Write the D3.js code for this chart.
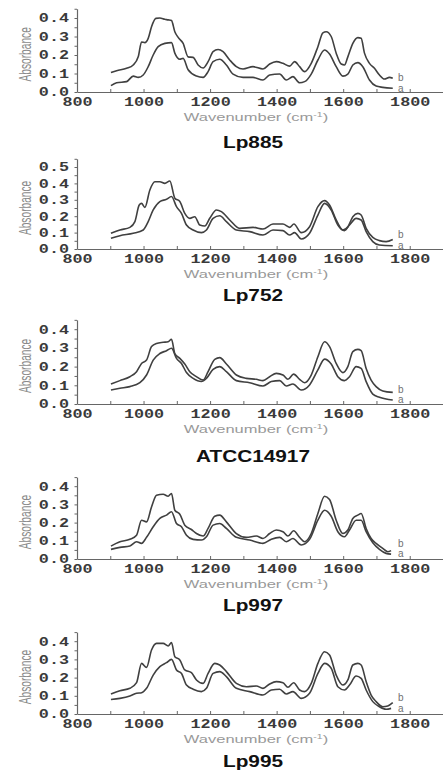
<!DOCTYPE html>
<html><head><meta charset="utf-8">
<script src="https://cdn.jsdelivr.net/npm/d3@7"></script>
<style>body{margin:0;background:#fff}svg{display:block}</style>
</head><body><svg id="c" width="443" height="779"></svg>
<script>
// ---------------- DATA ----------------
const panelNames = ["Lp885", "Lp752", "ATCC14917", "Lp997", "Lp995"];
const seriesNames = ["a", "b"];
const xTickLabels = [800, 1000, 1200, 1400, 1600, 1800];
const yTickLabelsA = [0.0, 0.1, 0.2, 0.3, 0.4];
const yTickLabelsB = [0.0, 0.1, 0.2, 0.3, 0.4, 0.5];

const lp885B = [[902,0.105],[919,0.115],[949,0.128],[969,0.146],[984,0.19],[994,0.27],[1004,0.267],[1014,0.29],[1024,0.353],[1037,0.398],[1049,0.40],[1064,0.393],[1074,0.39],[1084,0.386],[1094,0.326],[1104,0.295],[1119,0.263],[1134,0.19],[1149,0.187],[1164,0.146],[1179,0.13],[1194,0.164],[1209,0.218],[1224,0.23],[1239,0.218],[1259,0.173],[1279,0.137],[1299,0.124],[1329,0.137],[1359,0.124],[1379,0.151],[1399,0.164],[1419,0.155],[1439,0.14],[1454,0.164],[1469,0.137],[1484,0.11],[1504,0.155],[1524,0.245],[1539,0.32],[1549,0.326],[1564,0.30],[1579,0.21],[1594,0.151],[1604,0.146],[1614,0.19],[1629,0.263],[1644,0.294],[1654,0.29],[1664,0.21],[1679,0.155],[1694,0.128],[1709,0.092],[1724,0.07],[1739,0.079],[1749,0.074]];
const lp885A = [[902,0.034],[919,0.05],[949,0.056],[969,0.086],[984,0.079],[999,0.092],[1014,0.137],[1029,0.20],[1044,0.245],[1064,0.263],[1084,0.267],[1094,0.21],[1109,0.177],[1119,0.182],[1134,0.12],[1159,0.086],[1179,0.079],[1194,0.11],[1209,0.164],[1229,0.177],[1249,0.146],[1269,0.097],[1299,0.079],[1329,0.079],[1359,0.065],[1379,0.092],[1409,0.097],[1429,0.065],[1449,0.083],[1469,0.05],[1484,0.056],[1504,0.097],[1524,0.173],[1544,0.227],[1559,0.205],[1579,0.137],[1599,0.086],[1614,0.097],[1629,0.146],[1644,0.159],[1659,0.137],[1679,0.065],[1699,0.032],[1719,0.025],[1749,0.02]];

const lp752B = [[902,0.096],[929,0.116],[959,0.132],[974,0.167],[987,0.268],[994,0.278],[1004,0.254],[1019,0.36],[1034,0.41],[1049,0.41],[1064,0.40],[1079,0.415],[1094,0.31],[1109,0.29],[1124,0.217],[1139,0.187],[1154,0.197],[1169,0.146],[1184,0.14],[1199,0.187],[1219,0.238],[1234,0.228],[1259,0.177],[1289,0.126],[1329,0.132],[1359,0.122],[1389,0.152],[1419,0.152],[1439,0.132],[1452,0.152],[1474,0.10],[1499,0.136],[1524,0.258],[1544,0.295],[1559,0.268],[1579,0.177],[1599,0.116],[1614,0.136],[1629,0.197],[1644,0.217],[1654,0.207],[1669,0.126],[1689,0.071],[1709,0.051],[1729,0.045],[1749,0.058]];
const lp752A = [[902,0.065],[929,0.081],[969,0.096],[999,0.116],[1014,0.167],[1029,0.238],[1049,0.289],[1069,0.303],[1084,0.32],[1099,0.258],[1114,0.217],[1129,0.146],[1149,0.116],[1174,0.10],[1189,0.116],[1209,0.187],[1229,0.203],[1249,0.167],[1279,0.116],[1319,0.106],[1359,0.085],[1389,0.116],[1419,0.112],[1439,0.085],[1454,0.10],[1474,0.061],[1499,0.096],[1524,0.207],[1544,0.278],[1564,0.238],[1584,0.146],[1604,0.112],[1619,0.146],[1639,0.187],[1654,0.177],[1669,0.106],[1689,0.045],[1709,0.024],[1749,0.02]];

const atccB = [[902,0.107],[929,0.125],[959,0.146],[979,0.173],[994,0.217],[1009,0.235],[1024,0.307],[1039,0.324],[1059,0.33],[1074,0.333],[1084,0.346],[1094,0.27],[1109,0.244],[1124,0.214],[1139,0.173],[1159,0.146],[1179,0.128],[1194,0.173],[1214,0.239],[1229,0.248],[1249,0.214],[1279,0.155],[1309,0.137],[1339,0.132],[1359,0.125],[1379,0.146],[1399,0.164],[1419,0.155],[1434,0.132],[1451,0.16],[1469,0.132],[1484,0.114],[1504,0.155],[1524,0.253],[1544,0.333],[1559,0.307],[1579,0.217],[1599,0.168],[1614,0.20],[1629,0.28],[1644,0.292],[1654,0.285],[1669,0.19],[1684,0.128],[1699,0.093],[1719,0.07],[1749,0.062]];
const atccA = [[902,0.075],[929,0.084],[959,0.093],[989,0.114],[1009,0.155],[1029,0.235],[1049,0.27],[1069,0.285],[1084,0.298],[1099,0.244],[1114,0.217],[1129,0.168],[1149,0.137],[1174,0.12],[1189,0.137],[1209,0.185],[1229,0.20],[1249,0.173],[1279,0.125],[1319,0.114],[1359,0.096],[1384,0.12],[1409,0.125],[1429,0.096],[1449,0.107],[1474,0.075],[1499,0.102],[1524,0.182],[1544,0.24],[1564,0.214],[1584,0.146],[1604,0.125],[1619,0.146],[1639,0.20],[1654,0.19],[1669,0.12],[1689,0.053],[1709,0.036],[1749,0.021]];

const lp997B = [[902,0.071],[929,0.095],[959,0.108],[979,0.131],[994,0.213],[1009,0.204],[1024,0.286],[1039,0.35],[1059,0.356],[1074,0.345],[1084,0.36],[1094,0.268],[1109,0.246],[1124,0.186],[1144,0.162],[1159,0.14],[1179,0.126],[1194,0.168],[1214,0.235],[1229,0.241],[1249,0.204],[1279,0.14],[1309,0.119],[1339,0.126],[1359,0.113],[1379,0.14],[1399,0.159],[1419,0.15],[1434,0.126],[1451,0.155],[1469,0.119],[1484,0.095],[1504,0.14],[1524,0.25],[1544,0.345],[1559,0.327],[1579,0.213],[1599,0.14],[1614,0.159],[1629,0.223],[1644,0.241],[1654,0.25],[1669,0.168],[1684,0.113],[1699,0.086],[1719,0.058],[1734,0.04],[1744,0.046]];
const lp997A = [[902,0.053],[929,0.064],[959,0.071],[979,0.095],[994,0.086],[1009,0.119],[1029,0.177],[1049,0.223],[1069,0.241],[1084,0.26],[1099,0.195],[1114,0.177],[1129,0.131],[1149,0.108],[1174,0.104],[1189,0.122],[1209,0.186],[1229,0.195],[1249,0.168],[1279,0.119],[1319,0.104],[1359,0.086],[1384,0.109],[1409,0.119],[1429,0.095],[1449,0.113],[1474,0.077],[1499,0.108],[1524,0.213],[1544,0.268],[1564,0.235],[1584,0.15],[1604,0.122],[1619,0.159],[1639,0.213],[1654,0.213],[1669,0.15],[1689,0.089],[1709,0.053],[1729,0.031],[1744,0.027]];

const lp995B = [[902,0.11],[929,0.128],[959,0.141],[979,0.172],[994,0.278],[1009,0.256],[1024,0.352],[1039,0.388],[1059,0.388],[1074,0.374],[1084,0.392],[1094,0.315],[1109,0.297],[1124,0.242],[1144,0.227],[1159,0.187],[1179,0.168],[1194,0.223],[1214,0.278],[1229,0.269],[1249,0.233],[1279,0.168],[1309,0.15],[1339,0.154],[1359,0.141],[1379,0.165],[1399,0.178],[1419,0.172],[1434,0.147],[1451,0.172],[1469,0.132],[1484,0.123],[1504,0.168],[1524,0.278],[1544,0.342],[1559,0.324],[1579,0.214],[1599,0.159],[1614,0.187],[1629,0.269],[1644,0.278],[1654,0.269],[1669,0.178],[1684,0.104],[1699,0.068],[1719,0.04],[1734,0.044],[1749,0.062]];
const lp995A = [[902,0.08],[929,0.086],[959,0.099],[979,0.114],[994,0.117],[1009,0.141],[1029,0.214],[1049,0.26],[1069,0.282],[1084,0.30],[1099,0.242],[1114,0.223],[1129,0.159],[1149,0.136],[1174,0.123],[1189,0.141],[1209,0.223],[1229,0.233],[1249,0.205],[1279,0.141],[1319,0.123],[1359,0.104],[1384,0.132],[1409,0.136],[1429,0.11],[1449,0.123],[1474,0.086],[1499,0.114],[1524,0.223],[1544,0.278],[1564,0.251],[1584,0.15],[1604,0.132],[1619,0.159],[1639,0.209],[1654,0.196],[1669,0.132],[1689,0.068],[1709,0.04],[1729,0.026],[1744,0.031]];

const panelSeries = [[lp885A, lp885B], [lp752A, lp752B], [atccA, atccB], [lp997A, lp997B], [lp995A, lp995B]];
const panelYTicks = [yTickLabelsA, yTickLabelsB, yTickLabelsA, yTickLabelsA, yTickLabelsA];

// ---------------- LAYOUT ----------------
const zeroY = [92, 249, 404, 559, 714];
const pxPerUnit = [185, 164, 187, 182, 182];
const yMax = [0.45, 0.55, 0.45, 0.45, 0.45];
const titleY = [148, 301, 462, 611, 767];
const axisX = 77, rightX = 443;
const SX = 1.4;

const svg = d3.select("#c");
const x = d3.scaleLinear().domain([800, 1900]).range([axisX, rightX]);
const fmt = d3.format(".1f");

panelNames.forEach((name, i) => {
  const y = d3.scaleLinear().domain([0, yMax[i]]).range([zeroY[i], zeroY[i] - yMax[i] * pxPerUnit[i]]);
  const g = svg.append("g");

  // x axis
  const xa = g.append("g").attr("transform", `translate(0,${zeroY[i]})`)
    .call(d3.axisBottom(x).tickValues(d3.range(800, 1801, 100)).tickSize(-3).tickSizeOuter(0)
      .tickFormat(d => xTickLabels.includes(d) ? d : ""));
  xa.select(".domain").attr("stroke", "#666").attr("stroke-width", 1.2);
  xa.selectAll(".tick line").attr("stroke", "#666");
  xa.selectAll("text").filter(function () { return this.textContent === ""; }).remove();
  xa.selectAll("text").attr("y", 14.5).attr("dy", 0)
    .attr("transform", `scale(${SX},1)`)
    .attr("font-family", "Liberation Mono, DejaVu Sans Mono, monospace")
    .attr("font-weight", "bold").attr("font-size", 12).attr("fill", "#3a3a3a");

  // y axis
  const ticks = panelYTicks[i];
  const minor = d3.range(0, yMax[i] + 1e-9, 0.05).map(v => +v.toFixed(2));
  const ya = g.append("g").attr("transform", `translate(${axisX},0)`)
    .call(d3.axisLeft(y).tickValues(minor).tickSize(2.5).tickSizeOuter(0)
      .tickFormat(d => ticks.some(t => Math.abs(t - d) < 1e-6) ? fmt(d) : ""));
  ya.select(".domain").attr("stroke", "#666").attr("stroke-width", 1.2);
  ya.selectAll(".tick line").attr("stroke", "#666");
  ya.selectAll("text").filter(function () { return this.textContent === ""; }).remove();
  ya.selectAll("text").attr("x", -8 / SX).attr("dy", "0.33em")
    .attr("transform", `scale(${SX},1)`)
    .attr("font-family", "Liberation Mono, DejaVu Sans Mono, monospace")
    .attr("font-weight", "bold").attr("font-size", 12).attr("fill", "#3a3a3a");

  // y label
  const midY = (zeroY[i] + y.range()[1]) / 2 + 4;
  g.append("text").attr("transform", `translate(31,${midY}) rotate(-90) scale(0.85,1.45)`)
    .attr("text-anchor", "middle").attr("font-family", "Liberation Sans, Arial, sans-serif")
    .attr("font-size", 12).attr("fill", "#8a8a8a").text("Absorbance");

  // x label
  const xl = g.append("text").attr("transform", `translate(${(axisX + rightX) / 2 - 4},${zeroY[i] + 29}) scale(1.5,1)`)
    .attr("text-anchor", "middle").attr("font-family", "Liberation Sans, Arial, sans-serif")
    .attr("font-size", 11).attr("fill", "#999");
  xl.append("tspan").text("Wavenumber (cm");
  xl.append("tspan").attr("font-size", 7).attr("dy", -4).text("-1");
  xl.append("tspan").attr("dy", 4).text(")");

  // lines
  const line = d3.line().x(d => x(d[0])).y(d => y(d[1])).curve(d3.curveMonotoneX);
  panelSeries[i].forEach(s => {
    g.append("path").datum(s).attr("d", line).attr("fill", "none")
      .attr("stroke", "#404040").attr("stroke-width", 1.6);
  });

  // series labels
  const [sa, sb] = panelSeries[i];
  const aY = y(sa[sa.length - 1][1]);
  const bY = Math.min(y(sb[sb.length - 1][1]), aY - 10.5);
  [[seriesNames[0], aY], [seriesNames[1], bY]].forEach(([t, yy]) => {
    g.append("text").attr("x", 398).attr("y", yy).attr("dy", "0.32em")
      .attr("font-family", "Liberation Sans, Arial, sans-serif").attr("font-size", 10)
      .attr("fill", "#707070").text(t);
  });

  // title
  g.append("text").attr("transform", `translate(253,${titleY[i]}) scale(1.3,1)`)
    .attr("text-anchor", "middle").attr("font-family", "Liberation Sans, Arial, sans-serif")
    .attr("font-weight", "bold").attr("font-size", 16).attr("fill", "#111").text(name);
});
</script></body></html>
